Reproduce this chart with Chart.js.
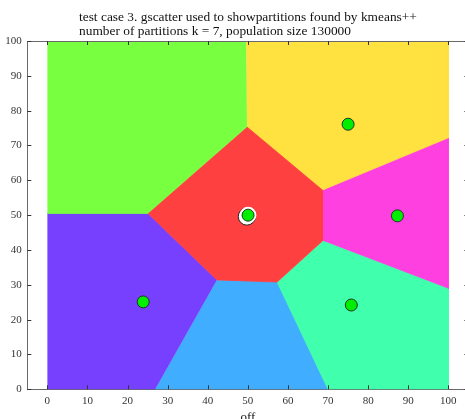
<!DOCTYPE html>
<html>
<head>
<meta charset="utf-8">
<script src="https://cdn.jsdelivr.net/npm/chart.js@4/dist/chart.umd.min.js"></script>
<style>
  html, body { margin: 0; padding: 0; background: #fff; overflow: hidden; }
  #myChart { display: block; }
</style>
</head>
<body>
<canvas id="myChart" width="470" height="419"></canvas>
<script>
// title lines
const titleLines = [
  'test case 3. gscatter used to showpartitions found by kmeans++',
  'number of partitions k = 7, population size 130000'
]
const xTicks = [0, 10, 20, 30, 40, 50, 60, 70, 80, 90, 100]
const yTicks = [0, 10, 20, 30, 40, 50, 60, 70, 80, 90, 100]

// partition outlines (x, y pairs)
const partNames = ['red', 'yellow', 'green', 'teal', 'blue', 'purple', 'magenta']
const partColors = ['#ff4040', '#ffe140', '#77ff40', '#40ffad', '#40adff', '#7740ff', '#ff40e1']
const partX = [
  [49.8, 68.6, 68.6, 57.3, 42.3, 25.1],
  [49.55, 100, 100, 68.6, 49.8],
  [0, 49.55, 49.8, 25.1, 0],
  [68.6, 100, 100, 70.0, 57.3],
  [42.3, 57.3, 70.0, 26.9],
  [0, 25.1, 42.3, 26.9, 0],
  [68.6, 100, 100, 68.6]
]
const partY = [
  [75.3, 57.2, 42.6, 30.8, 31.4, 50.5],
  [100, 100, 72.2, 57.2, 75.3],
  [100, 100, 75.3, 50.5, 50.5],
  [42.6, 28.8, 0, 0, 30.8],
  [31.4, 30.8, 0, 0],
  [50.5, 50.5, 31.4, 0, 0],
  [57.2, 72.2, 28.8, 42.6]
]

// centroids
const centX = [50.05, 23.9, 75.0, 87.3, 75.8]
const centY = [50.0, 25.1, 76.1, 49.8, 24.2]
// two more centroids sitting under the middle one
const hiddenX = [49.75, 50.05]
const hiddenY = [49.6, 50.0]

const serif = "'Liberation Serif', 'DejaVu Serif', serif"

const toPts = (xs, ys) => xs.map((x, i) => ({x: x, y: ys[i]}))

const datasets = partNames.map((name, i) => ({
  label: name,
  data: toPts(partX[i], partY[i]),
  showLine: true,
  fill: 'shape',
  backgroundColor: partColors[i],
  borderColor: partColors[i],
  borderWidth: 0.8,
  pointRadius: 0,
  order: 3
}))

datasets.push({
  label: 'overlap',
  data: toPts(hiddenX, hiddenY),
  pointRadius: [8.6, 7.6],
  backgroundColor: '#ffffff',
  borderColor: ['#222222', '#ffffff'],
  borderWidth: [1, 1.5],
  order: 2
})

datasets.push({
  label: 'centroids',
  data: toPts(centX, centY),
  pointRadius: 6,
  backgroundColor: '#00ee00',
  borderColor: '#1f3a1f',
  borderWidth: 1,
  order: 1
})

// title drawn left aligned, both lines start at the same x
const titlePlugin = {
  id: 'leftTitle',
  afterDraw(chart) {
    const ctx = chart.ctx
    ctx.save()
    ctx.fillStyle = '#111'
    ctx.font = '13.4px ' + serif
    ctx.textBaseline = 'alphabetic'
    ctx.fillText(titleLines[0], 79, 20.5)
    ctx.fillText(titleLines[1], 79, 35)
    ctx.restore()
  }
}

// inward ticks on all four sides plus the top frame line
const framePlugin = {
  id: 'frame',
  afterDraw(chart) {
    const {ctx, chartArea: a, scales} = chart
    const len = 4
    ctx.save()
    ctx.strokeStyle = '#6a6a6a'
    ctx.lineWidth = 1
    ctx.beginPath()
    ctx.moveTo(a.left, a.top + 0.5)
    ctx.lineTo(a.right, a.top + 0.5)
    ctx.moveTo(a.right - 0.5, a.top)
    ctx.lineTo(a.right - 0.5, a.bottom)
    ctx.stroke()
    ctx.strokeStyle = '#333'
    ctx.beginPath()
    xTicks.forEach(v => {
      const px = Math.round(scales.x.getPixelForValue(v)) + 0.5
      ctx.moveTo(px, a.bottom); ctx.lineTo(px, a.bottom - len)
      ctx.moveTo(px, a.top); ctx.lineTo(px, a.top + len)
    })
    yTicks.forEach(v => {
      const py = Math.round(scales.y.getPixelForValue(v)) + 0.5
      ctx.moveTo(a.left, py); ctx.lineTo(a.left + len, py)
      ctx.moveTo(a.right, py); ctx.lineTo(a.right - len, py)
    })
    ctx.stroke()
    ctx.restore()
  }
}

const config = {
  type: 'scatter',
  data: { datasets },
  options: {
    responsive: false,
    animation: false,
    devicePixelRatio: 1,
    // no room kept for marker radius, the frame is fixed
    layout: { autoPadding: false, padding: { top: 41, left: 0, right: 1.6, bottom: 0 } },
    plugins: {
      legend: { display: false },
      tooltip: { enabled: false },
      title: { display: false }
    },
    scales: {
      x: {
        type: 'linear',
        min: -5,
        max: 105,
        afterFit: s => { s.height = 29.7; s.paddingLeft = 0; s.paddingRight = 0 },
        afterBuildTicks: s => { s.ticks = xTicks.map(v => ({value: v})) },
        grid: { drawOnChartArea: false, drawTicks: false },
        border: { display: true, color: '#6a6a6a', width: 1 },
        ticks: { padding: 5, color: '#333', font: { family: serif, size: 11 }, maxRotation: 0, autoSkip: false },
        title: { display: true, text: 'off', color: '#111', font: { family: serif, size: 13 }, padding: { top: 0, bottom: -6 } }
      },
      y: {
        type: 'linear',
        min: 0,
        max: 100,
        afterFit: s => { s.width = 27.3; s.paddingTop = 0; s.paddingBottom = 0 },
        afterBuildTicks: s => { s.ticks = yTicks.map(v => ({value: v})) },
        grid: { drawOnChartArea: false, drawTicks: false },
        border: { display: true, color: '#6a6a6a', width: 1 },
        ticks: { padding: 5.5, color: '#333', font: { family: serif, size: 11 }, autoSkip: false }
      }
    }
  },
  plugins: [titlePlugin, framePlugin]
}

new Chart(document.getElementById('myChart').getContext('2d'), config)
</script>
</body>
</html>
